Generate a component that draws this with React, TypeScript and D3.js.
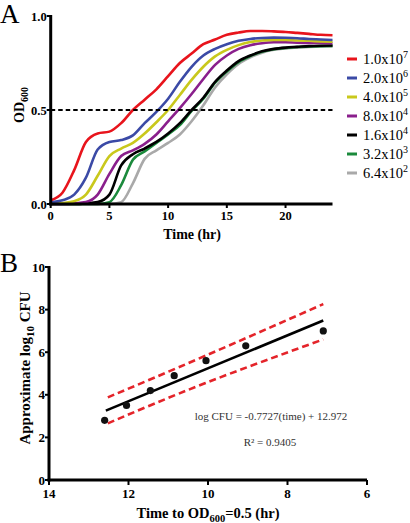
import React from "react";
import * as d3 from "d3";

// ---------- Panel A data ----------
const hours = [0,1,2,3,4,5,6,7,8,9,10,11,12,13,14,15,16,17,18,19,20,21,22,23,24];
const seriesLabels = ["1.0x10", "2.0x10", "4.0x10", "8.0x10", "1.6x10", "3.2x10", "6.4x10"];
const seriesExponents = ["7", "6", "5", "4", "4", "3", "2"];
const seriesColors = ["#e8141c", "#3b4aa6", "#c9c81c", "#8a1f8c", "#000000", "#1b8a3c", "#a9a9a9"];
const od1e7 = [0.02,0.06,0.18,0.33,0.375,0.385,0.43,0.50,0.555,0.61,0.68,0.75,0.80,0.85,0.875,0.90,0.912,0.92,0.92,0.918,0.915,0.91,0.905,0.90,0.898];
const od2e6 = [0.01,0.02,0.05,0.14,0.29,0.33,0.34,0.365,0.43,0.49,0.56,0.65,0.73,0.79,0.825,0.85,0.868,0.878,0.883,0.885,0.884,0.882,0.878,0.875,0.872];
const od4e5 = [0.0,0.005,0.015,0.05,0.15,0.255,0.295,0.325,0.375,0.435,0.50,0.58,0.66,0.73,0.785,0.82,0.845,0.862,0.87,0.873,0.873,0.87,0.868,0.865,0.863];
const od8e4 = [0.0,0.0,0.003,0.01,0.05,0.16,0.255,0.285,0.32,0.37,0.44,0.51,0.585,0.665,0.74,0.79,0.825,0.845,0.855,0.86,0.86,0.858,0.857,0.856,0.855];
const od16e4 = [0.0,0.0,0.0,0.003,0.01,0.05,0.205,0.265,0.295,0.33,0.375,0.43,0.50,0.565,0.65,0.71,0.76,0.79,0.812,0.825,0.832,0.836,0.84,0.842,0.843];
const od32e3 = [0.0,0.0,0.0,0.0,0.0,0.01,0.10,0.235,0.28,0.325,0.37,0.42,0.495,0.56,0.645,0.705,0.755,0.787,0.81,0.823,0.83,0.835,0.838,0.84,0.841];
const od64e2 = [0.0,0.0,0.0,0.0,0.0,0.0,0.01,0.11,0.24,0.285,0.325,0.37,0.44,0.525,0.62,0.69,0.745,0.78,0.805,0.82,0.828,0.833,0.836,0.838,0.84];
const odSeries = [od1e7, od2e6, od4e5, od8e4, od16e4, od32e3, od64e2];
const thresholdOD = 0.5;
const aXTicks = [0, 5, 10, 15, 20];
const aYTicks = [0, 0.5, 1.0];

// ---------- Panel B data ----------
const timeToHalf = [12.6, 12.05, 11.45, 10.85, 10.05, 9.05, 7.1];
const logCFU = [2.8, 3.5, 4.2, 4.9, 5.6, 6.3, 7.0];
const fitSlope = -0.7727;
const fitIntercept = 12.972;
const fitRange = [12.57, 7.1];
const bandTimes = [12.52, 10.08, 7.1];
const bandUpper = [3.88, 5.82, 8.26];
const bandLower = [2.66, 4.54, 6.6];
const bXTicks = [14, 12, 10, 8, 6];
const bYTicks = [0, 2, 4, 6, 8, 10];

const serif = "'Liberation Serif', 'Times New Roman', serif";

export default function App() {
  // Panel A scales
  const ax = d3.scaleLinear().domain([0, 24]).range([50.7, 332.5]);
  const ay = d3.scaleLinear().domain([0, 1]).range([204, 16]);
  const lineA = d3
    .line<number>()
    .x((_, i) => ax(hours[i]))
    .y((d) => ay(d))
    .curve(d3.curveMonotoneX);

  // Panel B scales
  const bx = d3.scaleLinear().domain([14, 6]).range([49, 367]);
  const by = d3.scaleLinear().domain([0, 10]).range([480, 267]);
  const fitLine = d3
    .line<number>()
    .x((t) => bx(t))
    .y((t) => by(fitSlope * t + fitIntercept));
  const bandLine = (vals: number[]) =>
    d3
      .line<number>()
      .x((_, i) => bx(bandTimes[i]))
      .y((d) => by(d))
      .curve(d3.curveNatural)(vals) || "";

  const axisW = 3;

  return (
    <svg
      width={410}
      height={523}
      style={{ position: "absolute", left: 0, top: 0, background: "#fff" }}
      fontFamily={serif}
    >
      {/* ---------------- Panel A ---------------- */}
      <text x={0} y={23} fontSize={27} fill="#000">A</text>

      {/* curves */}
      {odSeries
        .map((s, i) => ({ s, i }))
        .reverse()
        .map(({ s, i }) => (
          <path
            key={i}
            d={lineA(s) || ""}
            fill="none"
            stroke={seriesColors[i]}
            strokeWidth={2.6}
            strokeLinejoin="round"
          />
        ))}

      {/* threshold line */}
      <line
        x1={ax(0)}
        x2={ax(24)}
        y1={ay(thresholdOD)}
        y2={ay(thresholdOD)}
        stroke="#000"
        strokeWidth={2}
        strokeDasharray="4.5,3"
      />

      {/* axes A */}
      <line x1={ax(0)} x2={ax(0)} y1={ay(1) - 1} y2={ay(0) + 1.5} stroke="#000" strokeWidth={axisW} />
      <line x1={ax(0) - 1.5} x2={ax(24)} y1={ay(0)} y2={ay(0)} stroke="#000" strokeWidth={axisW} />
      {aYTicks.map((t) => (
        <g key={t}>
          <line x1={ax(0) - 4} x2={ax(0)} y1={ay(t)} y2={ay(t)} stroke="#000" strokeWidth={2} />
          <text
            x={ax(0) - 4}
            y={ay(t) + 4.5}
            fontSize={12.5}
            fontWeight="bold"
            textAnchor="end"
          >
            {t.toFixed(1)}
          </text>
        </g>
      ))}
      {aXTicks.map((t) => (
        <g key={t}>
          <line x1={ax(t)} x2={ax(t)} y1={ay(0)} y2={ay(0) + 4} stroke="#000" strokeWidth={2} />
          <text x={ax(t)} y={220} fontSize={12.5} fontWeight="bold" textAnchor="middle">
            {t}
          </text>
        </g>
      ))}
      <text x={192} y={239} fontSize={14} fontWeight="bold" textAnchor="middle">
        Time (hr)
      </text>
      <text
        transform="translate(24,105) rotate(-90)"
        fontSize={14}
        fontWeight="bold"
        textAnchor="middle"
      >
        OD<tspan fontSize={10} dy={4}>600</tspan>
      </text>

      {/* legend */}
      {seriesLabels.map((lab, i) => {
        const cy = 59 + i * 19;
        return (
          <g key={i}>
            <line x1={347} x2={357} y1={cy} y2={cy} stroke={seriesColors[i]} strokeWidth={3} />
            <text x={363} y={cy + 5} fontSize={14.5}>
              {lab}
              <tspan fontSize={10} dy={-6}>{seriesExponents[i]}</tspan>
            </text>
          </g>
        );
      })}

      {/* ---------------- Panel B ---------------- */}
      <text x={0} y={272} fontSize={27} fill="#000">B</text>

      {/* bands */}
      <path d={bandLine(bandUpper)} fill="none" stroke="#e4242a" strokeWidth={2.6} strokeDasharray="7,4" />
      <path d={bandLine(bandLower)} fill="none" stroke="#e4242a" strokeWidth={2.6} strokeDasharray="7,4" />
      {/* fit */}
      <path d={fitLine(fitRange) || ""} fill="none" stroke="#000" strokeWidth={2.6} />
      {/* points */}
      {timeToHalf.map((t, i) => (
        <circle key={i} cx={bx(t)} cy={by(logCFU[i])} r={3.6} fill="#111" />
      ))}

      {/* axes B */}
      <line x1={bx(14)} x2={bx(14)} y1={by(10) - 1} y2={by(0) + 1.5} stroke="#000" strokeWidth={axisW} />
      <line x1={bx(14) - 1.5} x2={bx(6)} y1={by(0)} y2={by(0)} stroke="#000" strokeWidth={axisW} />
      {bYTicks.map((t) => (
        <g key={t}>
          <line x1={bx(14) - 4} x2={bx(14)} y1={by(t)} y2={by(t)} stroke="#000" strokeWidth={2} />
          <text x={bx(14) - 4} y={by(t) + 4.5} fontSize={13} fontWeight="bold" textAnchor="end">
            {t}
          </text>
        </g>
      ))}
      {bXTicks.map((t) => (
        <g key={t}>
          <line x1={bx(t)} x2={bx(t)} y1={by(0)} y2={by(0) + 5} stroke="#000" strokeWidth={2} />
          <text x={bx(t)} y={498} fontSize={13} fontWeight="bold" textAnchor="middle">
            {t}
          </text>
        </g>
      ))}
      <text x={208} y={518} fontSize={14.5} fontWeight="bold" textAnchor="middle">
        Time to OD<tspan fontSize={10.5} dy={4}>600</tspan>
        <tspan dy={-4}>=0.5 (hr)</tspan>
      </text>
      <text
        transform="translate(30,368) rotate(-90)"
        fontSize={15}
        fontWeight="bold"
        textAnchor="middle"
      >
        Approximate log<tspan fontSize={11} dy={4}>10</tspan>
        <tspan dy={-4}> CFU</tspan>
      </text>

      <text x={271} y={420} fontSize={11} fill="#333" textAnchor="middle">
        log CFU = -0.7727(time) + 12.972
      </text>
      <text x={270} y={446} fontSize={11} fill="#333" textAnchor="middle">
        R² = 0.9405
      </text>
    </svg>
  );
}
